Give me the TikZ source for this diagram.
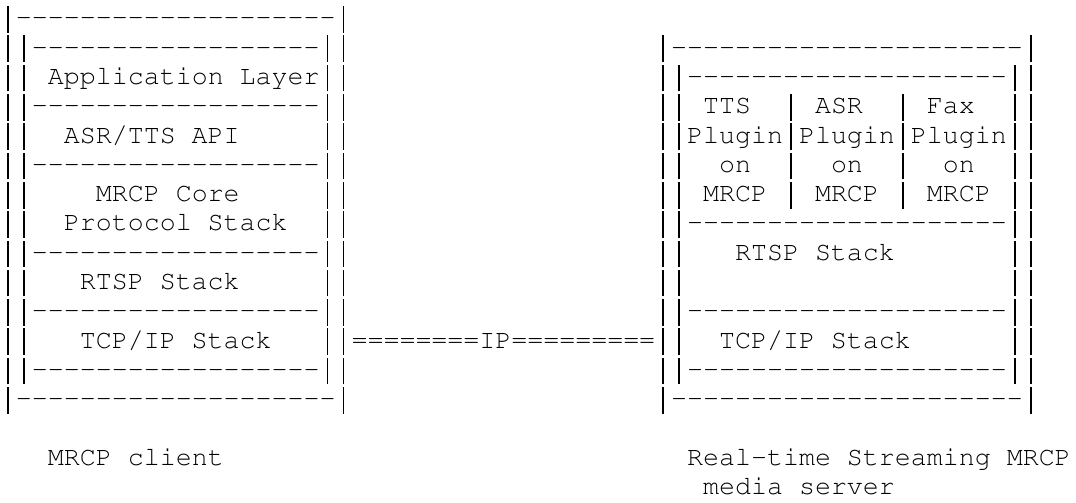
\documentclass[tikz,border=0pt]{standalone}
\usepackage[T1]{fontenc}
\usepackage{courier}

\newcommand\asciifont{\ttfamily\frenchspacing\fontsize{20}{22}\selectfont}
\newcommand\dashrun[1]{\foreach\k in {1,...,#1}{-}}
% bar cell: one em tall, as in the old line printer art
\newcommand\vb{\makebox[\fontcharwd\font`\-]{\rule[-0.26em]{0.055em}{1em}}}

\tikzset{
	row/.style={anchor=base west, inner sep=0pt, outer sep=0pt, font=\asciifont}
}

\begin{document}
\begin{tikzpicture}[x=12pt, y=-22pt]
			
			% page
			\path[fill=white] (0.081,-0.883) rectangle (67.331,16.267);
			
			% MRCP client stack
			\node[row] (c0)  at (0,0)  {\vb\dashrun{20}\vb};
			\node[row] (c1)  at (0,1)  {\vb\vb\dashrun{18}\vb\vb};
			\node[row] (c2)  at (0,2)  {\vb\vb~Application~Layer\vb\vb};
			\node[row] (c3)  at (0,3)  {\vb\vb\dashrun{18}\vb\vb};
			\node[row] (c4)  at (0,4)  {\vb\vb~~ASR/TTS~API~~~~~\vb\vb};
			\node[row] (c5)  at (0,5)  {\vb\vb\dashrun{18}\vb\vb};
			\node[row] (c6)  at (0,6)  {\vb\vb~~~~MRCP~Core~~~~~\vb\vb};
			\node[row] (c7)  at (0,7)  {\vb\vb~~Protocol~Stack~~\vb\vb};
			\node[row] (c8)  at (0,8)  {\vb\vb\dashrun{18}\vb\vb};
			\node[row] (c9)  at (0,9)  {\vb\vb~~~RTSP~Stack~~~~~\vb\vb};
			\node[row] (c10) at (0,10) {\vb\vb\dashrun{18}\vb\vb};
			\node[row] (c11) at (0,11) {\vb\vb~~~TCP/IP~Stack~~~\vb\vb};
			\node[row] (c12) at (0,12) {\vb\vb\dashrun{18}\vb\vb};
			\node[row] (c13) at (0,13) {\vb\dashrun{20}\vb};
			
			% IP link between the two stacks
			\node[row] (link) at (22,11) {========IP=========};
			
			% media server stack
			\node[row] (s1)  at (41,1)  {\vb\dashrun{22}\vb};
			\node[row] (s2)  at (41,2)  {\vb\vb\dashrun{20}\vb\vb};
			\node[row] (s3)  at (41,3)  {\vb\vb~TTS~~\vb~ASR~~\vb~Fax~~\vb\vb};
			\node[row] (s4)  at (41,4)  {\vb\vb Plugin\vb Plugin\vb Plugin\vb\vb};
			\node[row] (s5)  at (41,5)  {\vb\vb~~on~~\vb~~on~~\vb~~on~~\vb\vb};
			\node[row] (s6)  at (41,6)  {\vb\vb~MRCP~\vb~MRCP~\vb~MRCP~\vb\vb};
			\node[row] (s7)  at (41,7)  {\vb\vb\dashrun{20}\vb\vb};
			\node[row] (s8)  at (41,8)  {\vb\vb~~~RTSP~Stack~~~~~~~\vb\vb};
			\node[row] (s9)  at (41,9)  {\vb\vb~~~~~~~~~~~~~~~~~~~~\vb\vb};
			\node[row] (s10) at (41,10) {\vb\vb\dashrun{20}\vb\vb};
			\node[row] (s11) at (41,11) {\vb\vb~~TCP/IP~Stack~~~~~~\vb\vb};
			\node[row] (s12) at (41,12) {\vb\vb\dashrun{20}\vb\vb};
			\node[row] (s13) at (41,13) {\vb\dashrun{22}\vb};
			
			% captions
			\node[row] (client) at (3,15)  {MRCP~client};
			\node[row] (server) at (43,15) {Real-time~Streaming~MRCP};
			\node[row] (media)  at (44,16) {media~server};
			
		\end{tikzpicture}
\end{document}
